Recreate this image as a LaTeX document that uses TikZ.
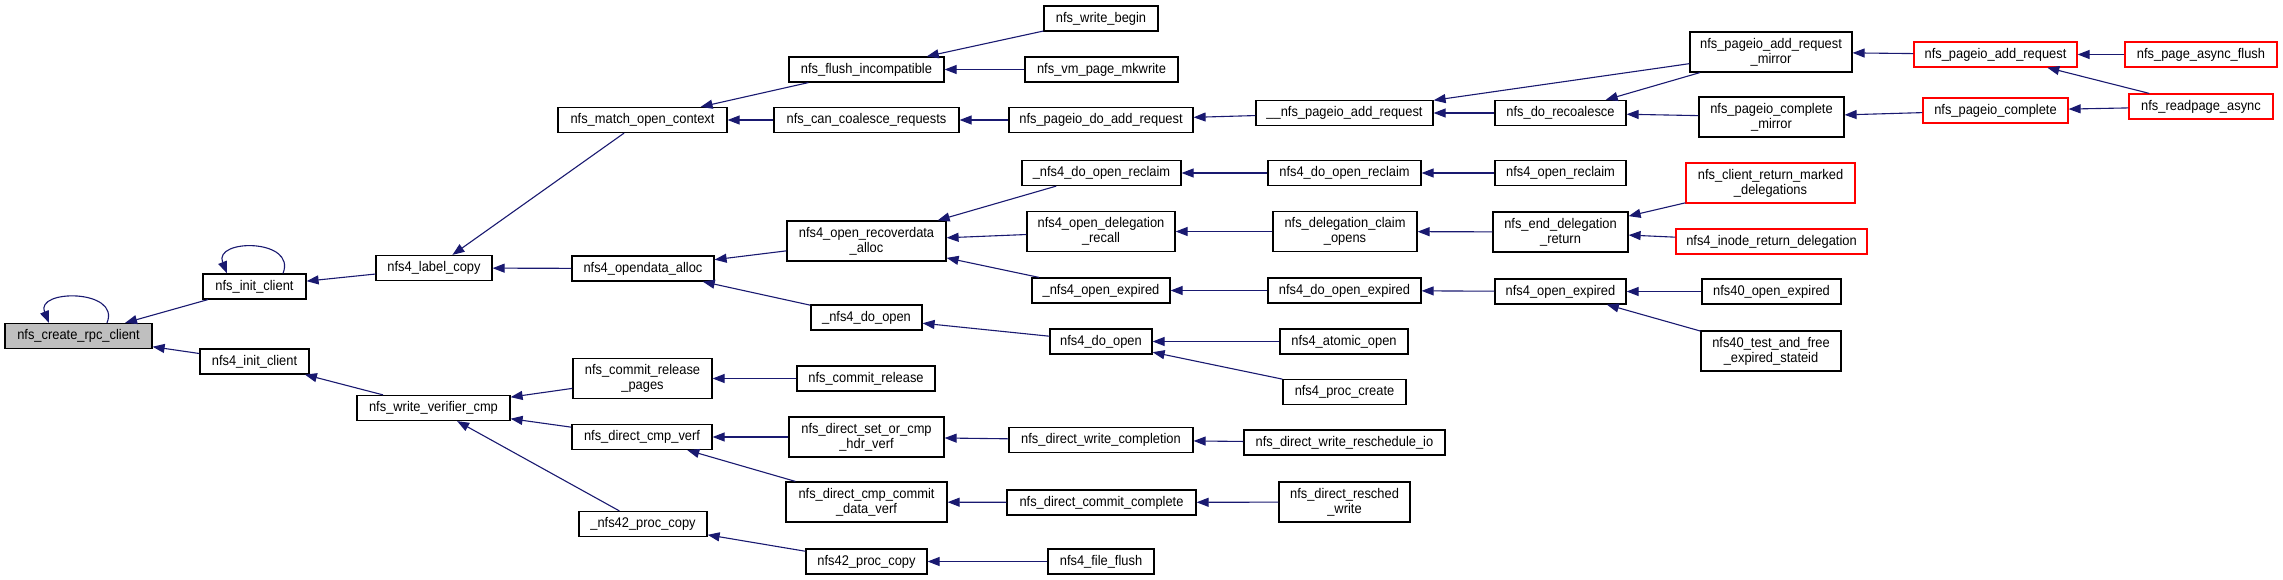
\documentclass[tikz,border=0pt]{standalone}
\usepackage{fontspec}
\setmainfont[FakeStretch=0.92]{Liberation Sans}
\usetikzlibrary{arrows.meta}
\definecolor{edgeblue}{HTML}{191970}
\definecolor{rootgray}{HTML}{BFBFBF}

\begin{document}
\begin{tikzpicture}[x=1pt, y=-1pt]
    \tikzset{
        fn/.style={draw, line width=1.2pt, fill=white, inner sep=0pt, minimum height=25pt, align=center, font=\fontsize{14}{15}\selectfont},
        fntwo/.style={fn, minimum height=40pt},
        nodoc/.style={draw=red},
        arc/.style={-{Triangle[length=12pt,width=9pt]}, draw=edgeblue, line width=1.1pt}
    }
    \useasboundingbox (0,0) rectangle (2283,580);

    % column 0 to 2
    \draw node[fn, fill=rootgray, minimum width=147pt] (root) at (78.5,336) {nfs\_create\_rpc\_client};
    \draw node[fn, minimum width=103pt] (initc) at (254.5,286.5) {nfs\_init\_client};
    \draw node[fn, minimum width=109pt] (init4) at (254.5,361.5) {nfs4\_init\_client};
    \draw node[fn, minimum width=116pt] (labelcopy) at (434,268) {nfs4\_label\_copy};
    \draw node[fn, minimum width=153pt] (wvcmp) at (433.5,408) {nfs\_write\_verifier\_cmp};

    % column 3
    \draw node[fn, minimum width=169pt] (matchctx) at (642.5,120) {nfs\_match\_open\_context};
    \draw node[fn, minimum width=142pt] (opendata) at (643,268.5) {nfs4\_opendata\_alloc};
    \draw node[fntwo, minimum width=139pt] (crpages) at (642.5,378.5) {nfs\_commit\_release\\\_pages};
    \draw node[fn, minimum width=140pt] (dcmpverf) at (642,437) {nfs\_direct\_cmp\_verf};
    \draw node[fn, minimum width=128pt] (p42copy) at (643,524) {\_nfs42\_proc\_copy};

    % column 4
    \draw node[fn, minimum width=155pt] (flushinc) at (866.5,69.5) {nfs\_flush\_incompatible};
    \draw node[fn, minimum width=185pt] (cancoal) at (866.5,120) {nfs\_can\_coalesce\_requests};
    \draw node[fntwo, minimum width=159pt] (recdata) at (866.5,241) {nfs4\_open\_recoverdata\\\_alloc};
    \draw node[fn, minimum width=111pt] (dopenA) at (866.5,317.5) {\_nfs4\_do\_open};
    \draw node[fn, minimum width=138pt] (crelease) at (866,378.5) {nfs\_commit\_release};
    \draw node[fntwo, minimum width=155pt] (setorcmp) at (866.5,437) {nfs\_direct\_set\_or\_cmp\\\_hdr\_verf};
    \draw node[fntwo, minimum width=161pt] (cmpcommit) at (866.5,502) {nfs\_direct\_cmp\_commit\\\_data\_verf};
    \draw node[fn, minimum width=121pt] (p42) at (866.5,561.5) {nfs42\_proc\_copy};

    % column 5
    \draw node[fn, minimum width=114pt] (wbegin) at (1101,18.5) {nfs\_write\_begin};
    \draw node[fn, minimum width=153pt] (mkwrite) at (1101.5,69.5) {nfs\_vm\_page\_mkwrite};
    \draw node[fn, minimum width=184pt] (doadd) at (1101,120) {nfs\_pageio\_do\_add\_request};
    \draw node[fn, minimum width=159pt] (doreclaimA) at (1101.5,173) {\_nfs4\_do\_open\_reclaim};
    \draw node[fntwo, minimum width=148pt] (delrecall) at (1101,231.5) {nfs4\_open\_delegation\\\_recall};
    \draw node[fn, minimum width=138pt] (openexpA) at (1101,290.5) {\_nfs4\_open\_expired};
    \draw node[fn, minimum width=102pt] (doopen) at (1101,341.5) {nfs4\_do\_open};
    \draw node[fn, minimum width=184pt] (wcompl) at (1101,440) {nfs\_direct\_write\_completion};
    \draw node[fn, minimum width=189pt] (ccompl) at (1101.5,502.5) {nfs\_direct\_commit\_complete};
    \draw node[fn, minimum width=106pt] (fflush) at (1101,561.5) {nfs4\_file\_flush};

    % column 6
    \draw node[fn, minimum width=177pt] (addreqB) at (1344.5,113) {\_\_nfs\_pageio\_add\_request};
    \draw node[fn, minimum width=153pt] (doreclaim) at (1344.5,173) {nfs4\_do\_open\_reclaim};
    \draw node[fntwo, minimum width=144pt] (claimopens) at (1345,231.5) {nfs\_delegation\_claim\\\_opens};
    \draw node[fn, minimum width=153pt] (doexp) at (1344.5,290.5) {nfs4\_do\_open\_expired};
    \draw node[fn, minimum width=128pt] (atomic) at (1344,341.5) {nfs4\_atomic\_open};
    \draw node[fn, minimum width=123pt] (pcreate) at (1344.5,392) {nfs4\_proc\_create};
    \draw node[fn, minimum width=201pt] (reschedio) at (1344.5,442.5) {nfs\_direct\_write\_reschedule\_io};
    \draw node[fntwo, minimum width=131pt] (reschedw) at (1344.5,502) {nfs\_direct\_resched\\\_write};

    % column 7
    \draw node[fn, minimum width=131pt] (recoal) at (1560.5,113) {nfs\_do\_recoalesce};
    \draw node[fn, minimum width=131pt] (oreclaim) at (1560.5,173) {nfs4\_open\_reclaim};
    \draw node[fntwo, minimum width=135pt] (enddel) at (1560.5,232) {nfs\_end\_delegation\\\_return};
    \draw node[fn, minimum width=131pt] (oexp) at (1560.5,291.5) {nfs4\_open\_expired};

    % column 8
    \draw node[fntwo, minimum width=162pt] (addmirror) at (1771,52) {nfs\_pageio\_add\_request\\\_mirror};
    \draw node[fntwo, minimum width=145pt] (cmirror) at (1771.5,117) {nfs\_pageio\_complete\\\_mirror};
    \draw node[fntwo, nodoc, minimum width=169pt] (retmarked) at (1770.5,183) {nfs\_client\_return\_marked\\\_delegations};
    \draw node[fn, nodoc, minimum width=191pt] (inoderet) at (1771.5,241.5) {nfs4\_inode\_return\_delegation};
    \draw node[fn, minimum width=139pt] (ofortyexp) at (1771.5,291.5) {nfs40\_open\_expired};
    \draw node[fntwo, minimum width=140pt] (testfree) at (1771,351) {nfs40\_test\_and\_free\\\_expired\_stateid};

    % column 9 and 10
    \draw node[fn, nodoc, minimum width=163pt] (addreq) at (1995.5,54.5) {nfs\_pageio\_add\_request};
    \draw node[fn, nodoc, minimum width=145pt] (pcompl) at (1995.5,110.5) {nfs\_pageio\_complete};
    \draw node[fn, nodoc, minimum width=152pt] (asyncflush) at (2201,54.5) {nfs\_page\_async\_flush};
    \draw node[fn, nodoc, minimum width=144pt] (readpage) at (2201,106.5) {nfs\_readpage\_async};

    % calls
    \foreach \x/\y in {%
        initc/root, init4/root, labelcopy/initc, matchctx/labelcopy, opendata/labelcopy,
        flushinc/matchctx, cancoal/matchctx, wbegin/flushinc, mkwrite/flushinc, doadd/cancoal,
        addreqB/doadd, addmirror/addreqB, recoal/addreqB, addmirror/recoal, cmirror/recoal,
        addreq/addmirror, pcompl/cmirror, asyncflush/addreq, readpage/addreq, readpage/pcompl,
        recdata/opendata, dopenA/opendata, doreclaimA/recdata, delrecall/recdata, openexpA/recdata,
        doreclaim/doreclaimA, oreclaim/doreclaim, claimopens/delrecall, enddel/claimopens,
        retmarked/enddel, inoderet/enddel, doexp/openexpA, oexp/doexp, ofortyexp/oexp, testfree/oexp,
        doopen/dopenA, atomic/doopen, pcreate/doopen, wvcmp/init4, crpages/wvcmp, dcmpverf/wvcmp,
        p42copy/wvcmp, crelease/crpages, setorcmp/dcmpverf, cmpcommit/dcmpverf, p42/p42copy,
        fflush/p42, wcompl/setorcmp, reschedio/wcompl, ccompl/cmpcommit, reschedw/ccompl%
    }{
        \draw (\x) edge[arc] (\y);
    }

    % recursive calls
    \draw[arc] ([xshift=28.5pt]root.north) .. controls +(14,-34) and +(-14,-34) .. ([xshift=-29.5pt]root.north);
    \draw[arc] ([xshift=28.5pt]initc.north) .. controls +(14,-35) and +(-14,-35) .. ([xshift=-27.5pt]initc.north);
\end{tikzpicture}
\end{document}
